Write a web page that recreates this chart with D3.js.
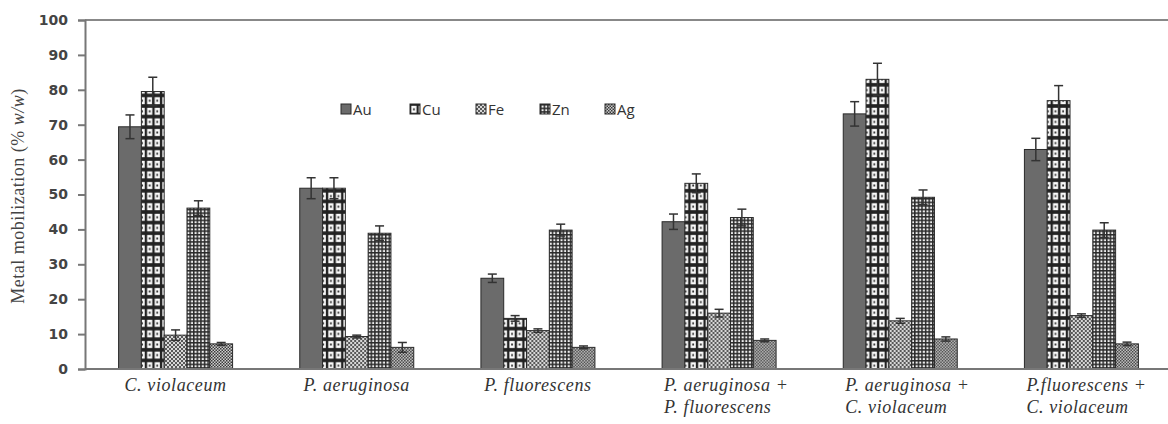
<!DOCTYPE html>
<html><head><meta charset="utf-8">
<script src="https://cdn.jsdelivr.net/npm/d3@7"></script>
<style>body{margin:0;background:#fff;}svg{display:block;}</style>
</head><body>
<svg id="chart" width="1168" height="424"></svg>
<script>
const categories = [
  ["C. violaceum"],
  ["P. aeruginosa"],
  ["P. fluorescens"],
  ["P. aeruginosa +", "P. fluorescens"],
  ["P. aeruginosa +", "C. violaceum"],
  ["P.fluorescens +", "C. violaceum"]
];
const metals = ["Au", "Cu", "Fe", "Zn", "Ag"];
const auValues = [69.4, 51.8, 26.0, 42.2, 73.1, 62.9];
const cuValues = [79.5, 51.8, 14.5, 53.2, 83.0, 76.9];
const feValues = [9.7, 9.3, 11.0, 16.0, 13.8, 15.3];
const znValues = [46.1, 38.9, 39.8, 43.4, 49.2, 39.8];
const agValues = [7.2, 6.2, 6.2, 8.2, 8.6, 7.2];
const auErrors = [3.4, 3.0, 1.2, 2.2, 3.5, 3.2];
const cuErrors = [4.1, 3.0, 0.8, 2.7, 4.6, 4.3];
const feErrors = [1.5, 0.4, 0.5, 1.1, 0.7, 0.5];
const znErrors = [2.1, 2.1, 1.7, 2.4, 2.1, 2.1];
const agErrors = [0.4, 1.4, 0.4, 0.4, 0.6, 0.5];
const yTicks = [0, 10, 20, 30, 40, 50, 60, 70, 80, 90, 100];

(function () {
const seriesValues = [auValues, cuValues, feValues, znValues, agValues];
const seriesErrors = [auErrors, cuErrors, feErrors, znErrors, agErrors];

const svg = d3.select("#chart");
const defs = svg.append("defs");

let p = defs.append("pattern").attr("id", "pCu").attr("patternUnits", "userSpaceOnUse")
  .attr("width", 7.6).attr("height", 10.6);
p.append("rect").attr("width", 7.6).attr("height", 10.6).attr("fill", "#222");
p.append("rect").attr("x", 1.3).attr("y", 1.8).attr("width", 5.2).attr("height", 7).attr("fill", "#fbfbfb");
p.append("rect").attr("x", 3.0).attr("y", 4.3).attr("width", 1.8).attr("height", 2).attr("fill", "#333");
p = defs.append("pattern").attr("id", "pFe").attr("patternUnits", "userSpaceOnUse")
  .attr("width", 4).attr("height", 4);
p.append("rect").attr("width", 4).attr("height", 4).attr("fill", "#d8d8d8");
p.append("rect").attr("x", 0).attr("y", 0).attr("width", 2).attr("height", 2).attr("fill", "#585858");
p.append("rect").attr("x", 2).attr("y", 2).attr("width", 2).attr("height", 2).attr("fill", "#585858");
p = defs.append("pattern").attr("id", "pZn").attr("patternUnits", "userSpaceOnUse")
  .attr("width", 3.6).attr("height", 3.6);
p.append("rect").attr("width", 3.6).attr("height", 3.6).attr("fill", "#eeeeee");
p.append("rect").attr("x", 0).attr("y", 0).attr("width", 3.6).attr("height", 1.5).attr("fill", "#2a2a2a");
p.append("rect").attr("x", 0).attr("y", 0).attr("width", 1.5).attr("height", 3.6).attr("fill", "#2a2a2a");
p = defs.append("pattern").attr("id", "pAg").attr("patternUnits", "userSpaceOnUse")
  .attr("width", 3).attr("height", 3);
p.append("rect").attr("width", 3).attr("height", 3).attr("fill", "#cfcfcf");
p.append("rect").attr("x", 0).attr("y", 0).attr("width", 1.5).attr("height", 1.5).attr("fill", "#3a3a3a");
p.append("rect").attr("x", 1.5).attr("y", 1.5).attr("width", 1.5).attr("height", 1.5).attr("fill", "#3a3a3a");

const fills = {Au: "#6b6b6b", Cu: "url(#pCu)", Fe: "url(#pFe)", Zn: "url(#pZn)", Ag: "url(#pAg)"};

const mLeft = 85, mRight = 1172, mTop = 20, mBottom = 369;
const x0 = d3.scaleBand().domain(d3.range(categories.length)).range([mLeft, mRight]).padding(0);
const groupW = 114;
const x1 = d3.scaleBand().domain(metals)
  .range([(x0.bandwidth() - groupW) / 2, (x0.bandwidth() + groupW) / 2]).padding(0);
const y = d3.scaleLinear().domain([0, 100]).range([mBottom, mTop]);

svg.append("line").attr("x1", mLeft).attr("x2", 1168).attr("y1", y(100)).attr("y2", y(100))
  .attr("stroke", "#888").attr("stroke-width", 2);

const yAxis = svg.append("g").attr("transform", `translate(${mLeft},0)`)
  .call(d3.axisLeft(y).tickValues(yTicks).tickSize(7).tickPadding(10));
yAxis.select(".domain").attr("stroke", "#777").attr("stroke-width", 2);
yAxis.selectAll(".tick line").attr("stroke", "#777").attr("stroke-width", 2);
yAxis.selectAll(".tick text").attr("font-family", "'DejaVu Sans', Verdana, sans-serif")
  .attr("font-size", 14).attr("font-weight", "bold").attr("fill", "#444");

const groups = svg.append("g").selectAll("g").data(categories).join("g")
  .attr("transform", (d, i) => `translate(${x0(i)},0)`);

groups.each(function (c, i) {
  const g = d3.select(this);
  metals.forEach((m, k) => {
    const v = seriesValues[k][i];
    const e = seriesErrors[k][i];
    const bx = x1(m), bw = x1.bandwidth();
    g.append("rect").attr("x", bx).attr("y", y(v)).attr("width", bw).attr("height", y(0) - y(v))
      .attr("fill", fills[m]).attr("stroke", "#2a2a2a").attr("stroke-width", 1);
    const cx = bx + bw / 2;
    g.append("line").attr("x1", cx).attr("x2", cx).attr("y1", y(v - e)).attr("y2", y(v + e))
      .attr("stroke", "#333").attr("stroke-width", 1.5);
    g.append("line").attr("x1", cx - 4.5).attr("x2", cx + 4.5).attr("y1", y(v + e)).attr("y2", y(v + e))
      .attr("stroke", "#333").attr("stroke-width", 1.5);
    g.append("line").attr("x1", cx - 4.5).attr("x2", cx + 4.5).attr("y1", y(v - e)).attr("y2", y(v - e))
      .attr("stroke", "#333").attr("stroke-width", 1.5);
  });
});

svg.append("line").attr("x1", mLeft).attr("x2", 1168).attr("y1", y(0)).attr("y2", y(0))
  .attr("stroke", "#777").attr("stroke-width", 2);

categories.forEach((lines, i) => {
  const cx = x0(i) + x0.bandwidth() / 2;
  const t = svg.append("text").attr("font-family", "'Liberation Serif', 'Times New Roman', serif")
    .attr("font-style", "italic").attr("font-size", 18).attr("letter-spacing", 0.6).attr("fill", "#333");
  if (lines.length === 1) {
    t.attr("x", cx).attr("y", 391).attr("text-anchor", "middle").text(lines[0]);
  } else {
    lines.forEach((ln, j) => {
      t.append("tspan").attr("x", cx - 55).attr("y", 391 + j * 22).text(ln);
    });
  }
});

const yt = svg.append("text").attr("transform", "translate(24,196) rotate(-90)")
  .attr("text-anchor", "middle").attr("font-family", "'Liberation Serif', 'Times New Roman', serif")
  .attr("font-size", 18).attr("letter-spacing", 0.5).attr("fill", "#444");
yt.append("tspan").text("Metal mobilization  (% ");
yt.append("tspan").attr("font-style", "italic").text("w/w");
yt.append("tspan").text(")");

const legendX = [341, 410, 476, 540, 605];
const leg = svg.append("g").selectAll("g").data(metals).join("g")
  .attr("transform", (d, i) => `translate(${legendX[i]},104)`);
leg.append("rect").attr("width", 10).attr("height", 10).attr("fill", d => fills[d])
  .attr("stroke", "#2a2a2a").attr("stroke-width", 1);
leg.append("text").attr("x", 12).attr("y", 11).attr("font-family", "'Open Sans', 'Liberation Sans', sans-serif")
  .attr("font-size", 15).attr("fill", "#333").text(d => d);
})();
</script>
</body></html>
